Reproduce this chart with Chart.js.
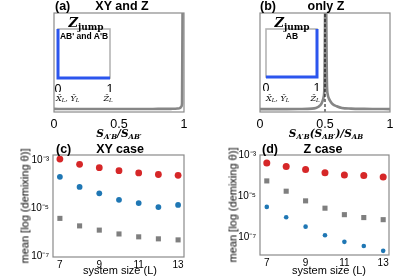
<!DOCTYPE html>
<html><head><meta charset="utf-8">
<script src="https://cdn.jsdelivr.net/npm/chart.js@4.4.0/dist/chart.umd.min.js"></script>
<style>
html,body{margin:0;padding:0;background:#fff;}
#wrap{position:relative;width:415px;height:278px;overflow:hidden;font-family:'Liberation Sans',Arial,sans-serif;}
canvas{position:absolute;left:0;top:0;}
.t{position:absolute;white-space:nowrap;line-height:1;color:#000;}
.c{transform:translateX(-50%);}
.b{font-weight:bold;}
.ttl{font-size:12.5px;font-weight:bold;}
.xl{font-family:'DejaVu Serif',serif;font-style:italic;font-weight:bold;font-size:10.5px;}
.xl sub{font-size:7px;vertical-align:-2px;}
.zj{font-family:'DejaVu Serif',serif;font-weight:bold;}
.zj i{font-size:13px;}
.zj sub{font-size:9px;vertical-align:-3px;}
.il{font-family:'DejaVu Serif',serif;font-style:italic;font-size:8px;}
.il sub{font-size:5.5px;vertical-align:-1px;}
.yl{font-size:11px;transform:translate(-50%,-50%) rotate(-90deg);}
.sx{font-size:11px;}
</style></head><body>
<div id="wrap">
<canvas id="ca" width="415" height="278"></canvas>
<canvas id="cb" width="415" height="278"></canvas>
<canvas id="cc" width="415" height="278"></canvas>
<canvas id="cd" width="415" height="278"></canvas>
<canvas id="ia" width="415" height="278"></canvas>
<canvas id="ib" width="415" height="278"></canvas>

<div class="t ttl" style="left:55px;top:0px;">(a)</div>
<div class="t ttl c" style="left:122px;top:0px;">XY and Z</div>
<div class="t ttl" style="left:260px;top:0px;">(b)</div>
<div class="t ttl c" style="left:326px;top:0px;">only Z</div>
<div class="t ttl" style="left:56px;top:143px;">(c)</div>
<div class="t ttl c" style="left:120px;top:143px;">XY case</div>
<div class="t ttl" style="left:262px;top:143px;">(d)</div>
<div class="t ttl c" style="left:323px;top:143px;">Z case</div>

<div class="t xl c" style="left:119px;top:128px;">S<sub>A′B</sub>/S<sub>AB′</sub></div>
<div class="t xl c" style="left:326px;top:128px;">S<sub>A′B</sub>(S<sub>AB′</sub>)/S<sub>AB</sub></div>

<div class="t zj c" style="left:86px;top:14px;"><i>Z</i><sub>jump</sub></div>
<div class="t b c" style="left:84px;top:32px;font-size:8.5px;">AB' and A'B</div>
<div class="t il" style="left:56px;top:95px;">X̄<sub>L</sub>, Ȳ<sub>L</sub></div>
<div class="t il c" style="left:108px;top:95px;">Z̄<sub>L</sub></div>

<div class="t zj c" style="left:292px;top:14px;"><i>Z</i><sub>jump</sub></div>
<div class="t b c" style="left:292px;top:32px;font-size:8.5px;">AB</div>
<div class="t il" style="left:266px;top:95px;">X̄<sub>L</sub>, Ȳ<sub>L</sub></div>
<div class="t il c" style="left:315px;top:95px;">Z̄<sub>L</sub></div>

<div class="t sx c" style="left:120px;top:265px;">system size (L)</div>
<div class="t sx c" style="left:329px;top:265px;">system size (L)</div>
<div class="t yl" style="left:25px;top:206px;">mean [log (demixing θ)]</div>
<div class="t yl" style="left:233px;top:205px;">mean [log (demixing θ)]</div>
</div>
<script>
// ---- data ----
const ratioTicks = [0, 0.5, 1];
const histX_a = [0, 0.1, 0.2, 0.3, 0.4, 0.5, 0.6, 0.7, 0.8, 0.9, 0.95, 0.97, 0.98, 0.985, 0.99];
const histY_a = [0.02, 0.01, 0.01, 0.01, 0.01, 0.01, 0.01, 0.01, 0.02, 0.03, 0.06, 0.12, 0.28, 0.6, 14];
const histX_b = [0, 0.1, 0.2, 0.3, 0.4, 0.43, 0.45, 0.47, 0.48, 0.49, 0.495, 0.505, 0.515, 0.52, 0.53, 0.54, 0.56, 0.59, 0.63, 0.7, 0.8, 0.9, 1];
const histY_b = [0, 0, 0, 0.01, 0.05, 0.12, 0.25, 0.5, 0.8, 1.3, 2.2, 15, 2.6, 1.6, 1.1, 0.85, 0.5, 0.3, 0.12, 0.05, 0.02, 0.01, 0];
const dashX_b = [0.5, 0.5];
const dashY_b = [-0.3, 10];
const insetTicks = [0, 1];
const insetA_x = [0, 0, 1];
const insetA_y = [1, 0, 0];
const insetB_x = [0, 1, 1];
const insetB_y = [0, 0, 1];

const sizes = [7, 8, 9, 10, 11, 12, 13];
const sizeTicks = [7, 9, 11, 13];
const logTicks = [1e-7, 1e-5, 1e-3];
const xyRed  = [1.10e-3, 6.6e-4, 4.8e-4, 3.6e-4, 2.9e-4, 2.5e-4, 2.3e-4];
const xyBlue = [2.0e-4, 7.6e-5, 4.1e-5, 2.2e-5, 1.6e-5, 1.1e-5, 1.35e-5];
const xyGray = [3.7e-6, 1.8e-6, 1.2e-6, 8.3e-7, 6.3e-7, 5.2e-7, 4.7e-7];
const zRed   = [4.1e-4, 2.8e-4, 1.95e-4, 1.38e-4, 1.07e-4, 1.02e-4, 8.5e-5];
const zGray  = [5.5e-5, 1.74e-5, 5.9e-6, 2.6e-6, 1.26e-6, 9.1e-7, 7.2e-7];
const zBlue  = [3.0e-6, 9.5e-7, 3.3e-7, 1.26e-7, 6.0e-8, 3.8e-8, 2.2e-8];

// ---- helpers ----
const FONT = "'Liberation Sans', Arial, sans-serif";
const RED = '#d62728', BLUE = '#1f77b4', GRAY = '#7f7f7f';
const pts = (xs, ys) => xs.map((x, i) => ({x, y: ys[i]}));
const supMap = {'-':'⁻','0':'⁰','1':'¹','2':'²','3':'³','4':'⁴','5':'⁵','6':'⁶','7':'⁷','8':'⁸','9':'⁹'};
const sup = n => String(n).split('').map(ch => supMap[ch]).join('');
function framePlugin(color, w, before) {
  const fn = chart => {
    const a = chart.chartArea, c = chart.ctx;
    c.save(); c.strokeStyle = color; c.lineWidth = w;
    c.strokeRect(a.left, a.top, a.right - a.left, a.bottom - a.top);
    c.restore();
  };
  return before ? {id: 'frame', beforeDatasetsDraw: fn} : {id: 'frame', afterDatasetsDraw: fn};
}
const base = {responsive: false, animation: false, devicePixelRatio: 1, events: [],
  plugins: {legend: {display: false}, tooltip: {enabled: false}}};
const hidGrid = {display: false, drawTicks: false};

function histChart(id, pad, datasets) {
  return new Chart(id, {
    type: 'line',
    data: {datasets},
    options: {...base, layout: {padding: pad},
      scales: {
        x: {type: 'linear', min: 0, max: 1, grid: hidGrid, border: {display: false},
            afterBuildTicks: s => { s.ticks = ratioTicks.map(v => ({value: v})); },
            ticks: {padding: 5, color: '#000', maxRotation: 0, font: {size: 12.5, family: FONT}, callback: v => String(v)},
            afterFit: s => { s.height = 20; }},
        y: {display: false, min: -0.3, max: 10}
      }},
    plugins: [framePlugin('#8a8a8a', 1.2)]
  });
}
const curve = (xs, ys) => ({data: pts(xs, ys), borderColor: '#868686', borderWidth: 2.6, pointRadius: 0,
  cubicInterpolationMode: 'monotone', fill: false, borderJoinStyle: 'round'});

histChart('ca', {left: 54, right: 231, top: 13, bottom: 146}, [curve(histX_a, histY_a)]);
histChart('cb', {left: 260, right: 25, top: 13, bottom: 146}, [
  {data: pts(dashX_b, dashY_b), borderColor: '#000', borderWidth: 1, borderDash: [3, 2], pointRadius: 0},
  curve(histX_b, histY_b)
]);

function insetChart(id, pad, xs, ys) {
  return new Chart(id, {
    type: 'line',
    data: {datasets: [{data: pts(xs, ys), borderColor: '#2b55ee', borderWidth: 3, pointRadius: 0,
      borderJoinStyle: 'miter', borderCapStyle: 'butt', tension: 0, clip: 5}]},
    options: {...base, layout: {padding: pad},
      scales: {
        x: {type: 'linear', min: 0, max: 1, grid: hidGrid, border: {display: false},
            afterBuildTicks: s => { s.ticks = insetTicks.map(v => ({value: v})); },
            ticks: {padding: 4, color: '#000', maxRotation: 0, font: {size: 12.5, family: FONT}},
            afterFit: s => { s.height = 14; }},
        y: {display: false, min: 0, max: 1}
      }},
    plugins: [framePlugin('#b4b4b4', 1.6, true)]
  });
}
insetChart('ia', {left: 58, right: 305, top: 29, bottom: 186}, insetA_x, insetA_y);
insetChart('ib', {left: 266, right: 98, top: 29, bottom: 187}, insetB_x, insetB_y);

function sizeChart(id, pad, ymin, ymax, sets) {
  return new Chart(id, {
    type: 'scatter',
    data: {datasets: sets.map(s => ({data: pts(sizes, s.v), backgroundColor: s.c, borderWidth: 0,
      pointRadius: s.r, pointStyle: s.st || 'circle'}))},
    options: {...base, layout: {padding: pad},
      scales: {
        x: {type: 'linear', min: 6.65, max: 13.3, grid: hidGrid, border: {display: false},
            afterBuildTicks: s => { s.ticks = sizeTicks.map(v => ({value: v})); },
            ticks: {padding: 2, color: '#000', maxRotation: 0, font: {size: 10, family: FONT}},
            afterFit: s => { s.height = 14; }},
        y: {type: 'logarithmic', min: ymin, max: ymax, grid: hidGrid, border: {display: false},
            afterBuildTicks: s => { s.ticks = logTicks.map(v => ({value: v})); },
            ticks: {padding: 4, color: '#000', font: {size: 10, family: FONT},
                    callback: v => '10' + sup(Math.round(Math.log10(v)))},
            afterFit: s => { s.width = 30; }}
      }},
    plugins: [framePlugin('#8a8a8a', 1.2)]
  });
}
sizeChart('cc', {left: 23, right: 231, top: 155, bottom: 7}, 9.1e-8, 1.62e-3, [
  {v: xyGray, c: GRAY, r: 3.6, st: 'rect'},
  {v: xyBlue, c: BLUE, r: 2.9},
  {v: xyRed, c: RED, r: 3.4}
]);
sizeChart('cd', {left: 230, right: 26, top: 155, bottom: 9}, 1.38e-8, 1e-3, [
  {v: zGray, c: GRAY, r: 3.6, st: 'rect'},
  {v: zBlue, c: BLUE, r: 2.3},
  {v: zRed, c: RED, r: 3.5}
]);
</script>
</body></html>
